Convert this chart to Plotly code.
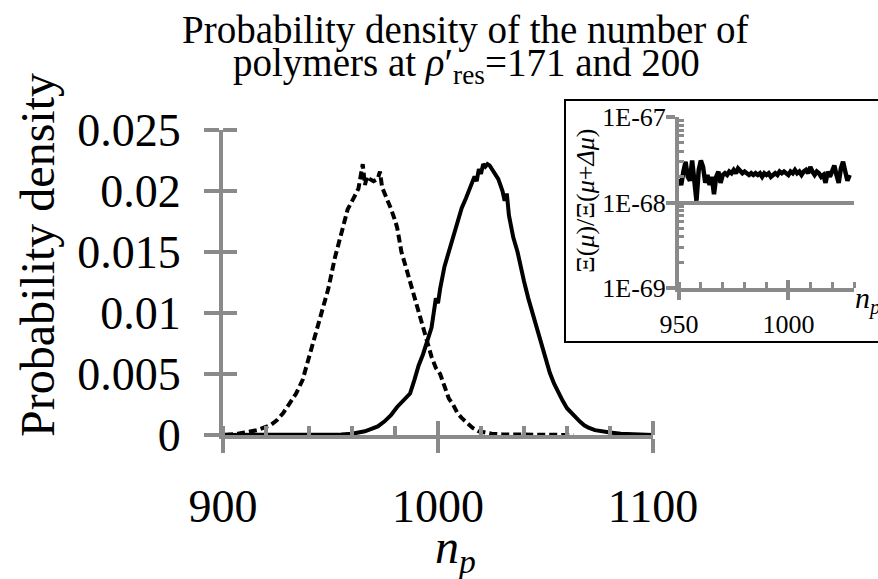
import plotly.graph_objects as go

# ---------------- data ----------------
n_171 = [901, 904, 907, 910, 913, 916, 919, 922, 925, 928, 931, 934, 937, 940, 943, 946, 949,
         952, 955, 958, 961, 963, 964, 965, 966, 967, 968, 970, 972, 973, 974, 976, 978, 980,
         981, 982, 983, 985, 987, 989, 991, 993, 995, 997, 999, 1001, 1003, 1005, 1007, 1009,
         1011, 1013, 1016, 1019, 1022, 1025, 1030, 1035, 1040, 1045, 1050, 1055, 1060, 1063]
p_171 = [0.00002, 0.00005, 0.0001, 0.0002, 0.0003, 0.0004, 0.0006, 0.0008, 0.0012, 0.0018,
         0.0026, 0.0034, 0.0045, 0.0064, 0.0085, 0.0102, 0.0120, 0.0145, 0.0165, 0.0185,
         0.0195, 0.0202, 0.0212, 0.0222, 0.0205, 0.0212, 0.0210, 0.0208, 0.0210, 0.0216,
         0.0203, 0.0195, 0.0186, 0.0176, 0.0170, 0.0160, 0.0150, 0.0138, 0.0126, 0.0114,
         0.0102, 0.0088, 0.0078, 0.0064, 0.0055, 0.0050, 0.0040, 0.0030, 0.0025, 0.0018,
         0.0014, 0.0011, 0.0006, 0.0003, 0.0002, 0.0001, 0.00005, 0.00003, 0.00002, 0.00001,
         0.00001, 0.0, 0.0, 0.0]

n_200 = [901, 910, 920, 930, 940, 950, 955, 960, 963, 966, 969, 972, 975, 978, 981, 984, 987,
         989, 991, 993, 995, 997, 998, 999, 1000, 1001, 1003, 1005, 1007, 1009, 1011, 1013,
         1015, 1016, 1017, 1018, 1019, 1020, 1021, 1022, 1023, 1024, 1026, 1028, 1029, 1030,
         1031, 1032, 1033, 1034, 1035, 1037, 1038, 1040, 1042, 1044, 1046, 1048, 1050, 1052,
         1054, 1056, 1058, 1060, 1062, 1064, 1066, 1068, 1070, 1073, 1076, 1080, 1085, 1090,
         1095, 1100]
p_200 = [0.0, 0.0, 0.0, 0.0, 0.0, 0.00002, 0.00005, 0.0001, 0.0002, 0.0003, 0.0005, 0.0007,
         0.0011, 0.0016, 0.0023, 0.0028, 0.0034, 0.0045, 0.0057, 0.0066, 0.0076, 0.0088,
         0.0100, 0.0112, 0.0108, 0.0120, 0.0138, 0.0150, 0.0163, 0.0175, 0.0186, 0.0194,
         0.0202, 0.0206, 0.0212, 0.0208, 0.0218, 0.0214, 0.0222, 0.0220, 0.0222, 0.0221,
         0.0216, 0.0210, 0.0205, 0.0200, 0.0192, 0.0198, 0.0180, 0.0170, 0.0162, 0.0150,
         0.0141, 0.0126, 0.0112, 0.0100, 0.0088, 0.0075, 0.0062, 0.0051, 0.0042, 0.0034,
         0.0028, 0.0022, 0.0018, 0.0015, 0.0011, 0.0008, 0.0006, 0.0004, 0.0003, 0.0002,
         0.0001, 0.00005, 0.00002, 0.0]

n_ratio = list(range(950, 1029))
ratio = [1.9e-68, 1.6e-68, 2.3e-68, 3.0e-68, 2.0e-68, 1.8e-68, 3.1e-68, 1.5e-68, 1.05e-68, 2.4e-68,
         3.1e-68, 2.6e-68, 1.7e-68, 2.1e-68, 1.6e-68, 2.0e-68, 1.25e-68, 2.0e-68, 2.3e-68, 1.7e-68,
         2.1e-68, 2.2e-68, 2.1e-68, 2.3e-68, 2.2e-68, 2.4e-68, 2.2e-68, 2.5e-68, 2.3e-68, 2.2e-68,
         2.3e-68, 2.2e-68, 2.1e-68, 2.2e-68, 2.1e-68, 2.2e-68, 2.1e-68, 2.2e-68, 2.0e-68, 2.2e-68,
         2.1e-68, 2.2e-68, 2.0e-68, 2.1e-68, 2.2e-68, 2.1e-68, 2.3e-68, 2.2e-68, 2.3e-68, 2.2e-68,
         2.1e-68, 2.3e-68, 2.2e-68, 2.4e-68, 2.2e-68, 2.3e-68, 2.1e-68, 2.3e-68, 2.4e-68, 2.2e-68,
         2.6e-68, 2.3e-68, 2.1e-68, 2.3e-68, 2.2e-68, 2.0e-68, 2.1e-68, 1.7e-68, 2.3e-68, 2.0e-68,
         2.4e-68, 2.7e-68, 2.1e-68, 1.7e-68, 2.5e-68, 3.0e-68, 2.3e-68, 1.8e-68, 2.1e-68]

y_ticks_main = [0, 0.005, 0.01, 0.015, 0.02, 0.025]
y_ticktext_main = ["0", "0.005", "0.01", "0.015", "0.02", "0.025"]
inset_tickvals = [1e-69, 1e-68, 1e-67]
inset_ticktext = ["1E-69", "1E-68", "1E-67"]
inset_minor_vals = [2e-69, 3e-69, 4e-69, 5e-69, 6e-69, 7e-69, 8e-69, 9e-69,
                    2e-68, 3e-68, 4e-68, 5e-68, 6e-68, 7e-68, 8e-68, 9e-68]

# ---------------- styling ----------------
W, H = 878, 579
GRAY = "#8a8a8a"
FONT = "Liberation Serif, Times New Roman, serif"


def px(x):
    return x / W


def py(y):
    return 1 - y / H


# main plot area in pixels
MX0, MX1, MY0, MY1 = 223, 653, 435, 130
XR = [900, 1100]
YR = [0, 0.025]
main_xdom = [px(MX0), px(MX1)]
main_ydom = [py(MY0), py(MY1)]
# twin axes carrying the inner halves of the crossing ticks, stretched 3 px so the
# end ticks are not dropped at the axis ends
EXT = 3
x_per_px = (XR[1] - XR[0]) / (MX1 - MX0)
y_per_px = (YR[1] - YR[0]) / (MY0 - MY1)
twin_xdom = [px(MX0), px(MX1 + EXT)]
twin_xr = [XR[0], XR[1] + EXT * x_per_px]
twin_ydom = [py(MY0), py(MY1 - EXT)]
twin_yr = [YR[0], YR[1] + EXT * y_per_px]

ins_xdom = [px(679), px(854)]
ins_ydom = [py(288), py(117)]

fig = go.Figure()

fig.add_trace(go.Scatter(x=n_200, y=p_200, mode="lines", xaxis="x3", yaxis="y3",
                         line=dict(color="rgba(0,0,0,0)", width=0),
                         showlegend=False, hoverinfo="skip"))
fig.add_trace(go.Scatter(x=n_ratio, y=ratio, mode="lines", xaxis="x4", yaxis="y4",
                         line=dict(color="rgba(0,0,0,0)", width=0),
                         showlegend=False, hoverinfo="skip"))

fig.add_trace(go.Scatter(x=n_171, y=p_171, mode="lines", xaxis="x", yaxis="y",
                         line=dict(color="black", width=4, dash="8px,4px"),
                         showlegend=False, hoverinfo="skip"))
fig.add_trace(go.Scatter(x=n_200, y=p_200, mode="lines", xaxis="x", yaxis="y",
                         line=dict(color="black", width=4),
                         showlegend=False, hoverinfo="skip"))
fig.add_trace(go.Scatter(x=n_ratio, y=ratio, mode="lines", xaxis="x2", yaxis="y2",
                         line=dict(color="black", width=4.5),
                         showlegend=False, hoverinfo="skip"))

tickfont_main = dict(family=FONT, size=46, color="black")
tickfont_ins = dict(family=FONT, size=26, color="black")

fig.update_layout(
    width=W, height=H,
    margin=dict(l=0, r=0, t=0, b=0),
    paper_bgcolor="white", plot_bgcolor="rgba(0,0,0,0)",
    showlegend=False,
    xaxis=dict(domain=main_xdom, anchor="y", range=XR, dtick=100, tick0=900,
               showgrid=False, zeroline=False, showline=True, linecolor=GRAY, linewidth=4,
               ticks="outside", ticklen=14, tickwidth=4, tickcolor=GRAY,
               ticklabelstandoff=14, tickfont=tickfont_main, automargin=False,
               minor=dict(ticks="inside", dtick=20, tick0=900, ticklen=9, tickwidth=4,
                          tickcolor=GRAY, showgrid=False)),
    yaxis=dict(domain=main_ydom, anchor="x", range=YR, tickvals=y_ticks_main,
               ticktext=y_ticktext_main,
               showgrid=False, zeroline=False, showline=True, linecolor=GRAY, linewidth=4,
               ticks="outside", ticklen=15, tickwidth=4, tickcolor=GRAY,
               ticklabelstandoff=14, tickfont=tickfont_main, automargin=False),
    xaxis3=dict(domain=twin_xdom, anchor="y3", range=twin_xr, dtick=100,
                tick0=900, showgrid=False, zeroline=False, showline=False,
                showticklabels=False,
                ticks="inside", ticklen=14, tickwidth=4, tickcolor=GRAY, automargin=False),
    yaxis3=dict(domain=twin_ydom, anchor="x3", range=twin_yr,
                tickvals=y_ticks_main, showgrid=False, zeroline=False, showline=False,
                showticklabels=False,
                ticks="inside", ticklen=14, tickwidth=4, tickcolor=GRAY, automargin=False),
    xaxis2=dict(domain=ins_xdom, anchor="y2", range=[950, 1030], dtick=50, tick0=950,
                showgrid=False, zeroline=False, showline=True, linecolor=GRAY, linewidth=4,
                ticks="outside", ticklen=8, tickwidth=4, tickcolor=GRAY,
                ticklabelstandoff=2, tickfont=tickfont_ins, automargin=False,
                minor=dict(ticks="inside", dtick=10, tick0=950, ticklen=6, tickwidth=3,
                           tickcolor=GRAY, showgrid=False)),
    yaxis2=dict(domain=ins_ydom, anchor="x2", type="log", range=[-69, -67],
                tickvals=inset_tickvals, ticktext=inset_ticktext,
                showgrid=True, gridcolor=GRAY, gridwidth=4, zeroline=False,
                showline=True, linecolor=GRAY, linewidth=4,
                ticks="outside", ticklen=9, tickwidth=4, tickcolor=GRAY,
                ticklabelstandoff=-5, tickfont=tickfont_ins, automargin=False,
                minor=dict(ticks="inside", tickmode="array", tickvals=inset_minor_vals,
                           ticklen=5, tickwidth=3, tickcolor=GRAY, showgrid=False)),
    xaxis4=dict(domain=ins_xdom, anchor="y4", range=[950, 1030], dtick=50,
                tick0=950, showgrid=False, zeroline=False, showline=False,
                showticklabels=False,
                ticks="inside", ticklen=8, tickwidth=4, tickcolor=GRAY, automargin=False),
    yaxis4=dict(domain=ins_ydom, anchor="x4", type="log", range=[-69, -67],
                tickvals=inset_tickvals, showgrid=False, zeroline=False, showline=False,
                showticklabels=False, ticks="inside", ticklen=9, tickwidth=4,
                tickcolor=GRAY, automargin=False),
    shapes=[dict(type="rect", xref="paper", yref="paper", layer="below",
                 x0=px(565), x1=px(900), y0=py(342), y1=py(100),
                 line=dict(color="black", width=2), fillcolor="white")],
    annotations=[
        dict(text="Probability density of the number of", x=px(465), y=py(30),
             xref="paper", yref="paper", showarrow=False, xanchor="center", yanchor="middle",
             font=dict(family=FONT, size=39, color="black")),
        dict(text="polymers at <i>ρ</i>′<sub>res</sub>=171 and 200", x=px(466), y=py(66),
             xref="paper", yref="paper", showarrow=False, xanchor="center", yanchor="middle",
             font=dict(family=FONT, size=39, color="black")),
        dict(text="Probability density", x=px(37), y=py(255), textangle=-90,
             xref="paper", yref="paper", showarrow=False, xanchor="center", yanchor="middle",
             font=dict(family=FONT, size=48, color="black")),
        dict(text="<i>n<sub>p</sub></i>", x=px(455), y=py(550),
             xref="paper", yref="paper", showarrow=False, xanchor="center", yanchor="middle",
             font=dict(family=FONT, size=48, color="black")),
        dict(text="Ξ(<i>μ</i>)/Ξ(<i>μ</i>+<i>Δμ</i>)", x=px(585), y=py(201), textangle=-90,
             xref="paper", yref="paper", showarrow=False, xanchor="center", yanchor="middle",
             font=dict(family=FONT, size=26, color="black")),
        dict(text="<i>n<sub>p</sub></i>", x=px(853), y=py(300),
             xref="paper", yref="paper", showarrow=False, xanchor="left", yanchor="middle",
             font=dict(family=FONT, size=30, color="black")),
    ],
)

fig.write_html("out.html")
